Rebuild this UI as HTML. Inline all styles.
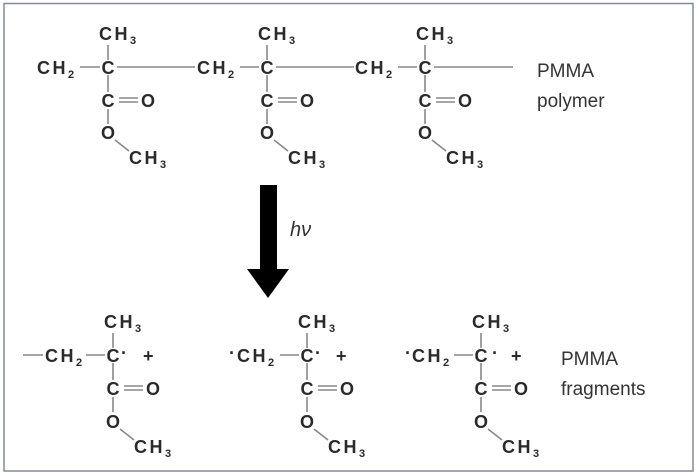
<!DOCTYPE html>
<html><head><meta charset="utf-8"><style>
html,body{margin:0;padding:0;background:#fff}
svg{display:block}
.t{font-family:"Liberation Sans",Arial,sans-serif;font-weight:bold;font-size:18px;fill:#2a2a2a}
.c{letter-spacing:2.5px}
.s{font-size:11px;letter-spacing:0}
.l{stroke:#888;stroke-width:1.6;fill:none}
.lab{font-family:"Liberation Sans",Arial,sans-serif;font-size:19px;fill:#333}
</style></head><body>
<svg width="698" height="475" viewBox="0 0 698 475" xmlns="http://www.w3.org/2000/svg">
<rect x="4" y="3.5" width="689" height="467.5" fill="#fff" stroke="#7d8ba0" stroke-width="1.5"/>

<!-- TOP ROW -->
<text class="t c" x="37" y="74">CH<tspan class="s" dy="4">2</tspan></text>
<line class="l" x1="80" y1="67" x2="100" y2="67"/>
<text class="t" x="108" y="74" text-anchor="middle">C</text>
<line class="l" x1="117" y1="67" x2="195" y2="67"/>
<text class="t c" x="99" y="40">CH<tspan class="s" dy="4">3</tspan></text>
<line class="l" x1="108" y1="45" x2="108" y2="60"/>
<line class="l" x1="108" y1="75" x2="108" y2="92"/>
<text class="t" x="108" y="107" text-anchor="middle">C</text>
<line class="l" x1="119" y1="98" x2="138" y2="98"/><line class="l" x1="119" y1="102" x2="138" y2="102"/>
<text class="t" x="141" y="107">O</text>
<line class="l" x1="108" y1="109" x2="108" y2="124"/>
<text class="t" x="108" y="139" text-anchor="middle">O</text>
<line class="l" x1="115" y1="140" x2="129" y2="151"/>
<text class="t c" x="129" y="164">CH<tspan class="s" dy="4">3</tspan></text>

<text class="t c" x="197" y="74">CH<tspan class="s" dy="4">2</tspan></text>
<line class="l" x1="240" y1="67" x2="259" y2="67"/>
<text class="t" x="267" y="74" text-anchor="middle">C</text>
<line class="l" x1="276" y1="67" x2="354" y2="67"/>
<text class="t c" x="258" y="40">CH<tspan class="s" dy="4">3</tspan></text>
<line class="l" x1="267" y1="45" x2="267" y2="60"/>
<line class="l" x1="267" y1="75" x2="267" y2="92"/>
<text class="t" x="267" y="107" text-anchor="middle">C</text>
<line class="l" x1="278" y1="98" x2="297" y2="98"/><line class="l" x1="278" y1="102" x2="297" y2="102"/>
<text class="t" x="300" y="107">O</text>
<line class="l" x1="267" y1="109" x2="267" y2="124"/>
<text class="t" x="267" y="139" text-anchor="middle">O</text>
<line class="l" x1="274" y1="140" x2="288" y2="151"/>
<text class="t c" x="288" y="164">CH<tspan class="s" dy="4">3</tspan></text>

<text class="t c" x="355" y="74">CH<tspan class="s" dy="4">2</tspan></text>
<line class="l" x1="398" y1="67" x2="417" y2="67"/>
<text class="t" x="425" y="74" text-anchor="middle">C</text>
<line class="l" x1="434" y1="67" x2="513" y2="67"/>
<text class="t c" x="416" y="40">CH<tspan class="s" dy="4">3</tspan></text>
<line class="l" x1="425" y1="45" x2="425" y2="60"/>
<line class="l" x1="425" y1="75" x2="425" y2="92"/>
<text class="t" x="425" y="107" text-anchor="middle">C</text>
<line class="l" x1="436" y1="98" x2="455" y2="98"/><line class="l" x1="436" y1="102" x2="455" y2="102"/>
<text class="t" x="458" y="107">O</text>
<line class="l" x1="425" y1="109" x2="425" y2="124"/>
<text class="t" x="425" y="139" text-anchor="middle">O</text>
<line class="l" x1="432" y1="140" x2="446" y2="151"/>
<text class="t c" x="446" y="164">CH<tspan class="s" dy="4">3</tspan></text>

<text class="lab" x="537" y="77">PMMA</text>
<text class="lab" x="537" y="107">polymer</text>

<!-- Arrow -->
<polygon points="260,185 277,185 277,269 289,269 268,298 247,269 260,269" fill="#000"/>
<text x="290" y="236" font-family="Liberation Sans,sans-serif" font-style="italic" font-size="20" fill="#333">hν</text>

<!-- BOTTOM ROW -->
<line class="l" x1="23" y1="355" x2="43" y2="355"/>
<text class="t c" x="45" y="362">CH<tspan class="s" dy="4">2</tspan></text>
<line class="l" x1="86" y1="355" x2="105" y2="355"/>
<text class="t" x="113" y="362" text-anchor="middle">C</text>
<text class="t" x="121" y="359" font-size="14">·</text>
<text class="t" x="143" y="362">+</text>
<text class="t c" x="104" y="328">CH<tspan class="s" dy="4">3</tspan></text>
<line class="l" x1="113" y1="333" x2="113" y2="348"/>
<line class="l" x1="113" y1="363" x2="113" y2="380"/>
<text class="t" x="113" y="395" text-anchor="middle">C</text>
<line class="l" x1="124" y1="386" x2="143" y2="386"/><line class="l" x1="124" y1="390" x2="143" y2="390"/>
<text class="t" x="146" y="395">O</text>
<line class="l" x1="113" y1="397" x2="113" y2="412"/>
<text class="t" x="113" y="428" text-anchor="middle">O</text>
<line class="l" x1="120" y1="429" x2="134" y2="440"/>
<text class="t c" x="134" y="453">CH<tspan class="s" dy="4">3</tspan></text>

<text class="t" x="229" y="359" font-size="14">·</text>
<text class="t c" x="237" y="362">CH<tspan class="s" dy="4">2</tspan></text>
<line class="l" x1="280" y1="355" x2="299" y2="355"/>
<text class="t" x="307" y="362" text-anchor="middle">C</text>
<text class="t" x="315" y="359" font-size="14">·</text>
<text class="t" x="336" y="362">+</text>
<text class="t c" x="298" y="328">CH<tspan class="s" dy="4">3</tspan></text>
<line class="l" x1="307" y1="333" x2="307" y2="348"/>
<line class="l" x1="307" y1="363" x2="307" y2="380"/>
<text class="t" x="307" y="395" text-anchor="middle">C</text>
<line class="l" x1="318" y1="386" x2="337" y2="386"/><line class="l" x1="318" y1="390" x2="337" y2="390"/>
<text class="t" x="340" y="395">O</text>
<line class="l" x1="307" y1="397" x2="307" y2="412"/>
<text class="t" x="307" y="428" text-anchor="middle">O</text>
<line class="l" x1="314" y1="429" x2="328" y2="440"/>
<text class="t c" x="328" y="453">CH<tspan class="s" dy="4">3</tspan></text>

<text class="t" x="405" y="359" font-size="14">·</text>
<text class="t c" x="412" y="362">CH<tspan class="s" dy="4">2</tspan></text>
<line class="l" x1="454" y1="355" x2="473" y2="355"/>
<text class="t" x="481" y="362" text-anchor="middle">C</text>
<text class="t" x="492" y="359" font-size="14">·</text>
<text class="t" x="511" y="362">+</text>
<text class="t c" x="472" y="328">CH<tspan class="s" dy="4">3</tspan></text>
<line class="l" x1="481" y1="333" x2="481" y2="348"/>
<line class="l" x1="481" y1="363" x2="481" y2="380"/>
<text class="t" x="481" y="395" text-anchor="middle">C</text>
<line class="l" x1="492" y1="386" x2="511" y2="386"/><line class="l" x1="492" y1="390" x2="511" y2="390"/>
<text class="t" x="514" y="395">O</text>
<line class="l" x1="481" y1="397" x2="481" y2="412"/>
<text class="t" x="481" y="428" text-anchor="middle">O</text>
<line class="l" x1="488" y1="429" x2="502" y2="440"/>
<text class="t c" x="502" y="453">CH<tspan class="s" dy="4">3</tspan></text>

<text class="lab" x="561" y="365">PMMA</text>
<text class="lab" x="561" y="395">fragments</text>
</svg>
</body></html>
